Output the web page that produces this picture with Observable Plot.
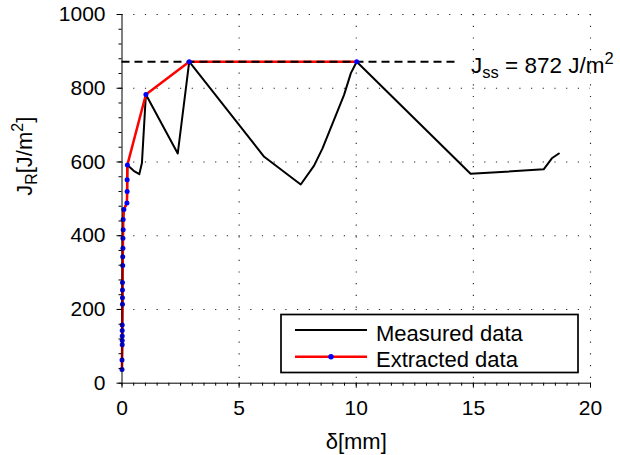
<!DOCTYPE html>
<html>
<head>
<meta charset="utf-8">
<script src="https://cdn.jsdelivr.net/npm/d3@7"></script>
<script src="https://cdn.jsdelivr.net/npm/@observablehq/plot@0.6"></script>
<style>
  html, body { margin: 0; padding: 0; background: #fff; }
  #wrap { position: relative; width: 620px; height: 455px; font-family: "Liberation Sans", Arial, Helvetica, sans-serif; }
  #legend { position: absolute; left: 0; top: 0; pointer-events: none; }
</style>
</head>
<body>
<div id="wrap"></div>
<script>
// ---- data ----
const measuredX = [0.0, 0.01, 0.02, 0.03, 0.04, 0.05, 0.08, 0.21, 0.22, 0.23, 0.50, 0.74, 0.85, 1.02, 2.38, 2.87, 6.07, 7.63, 8.20, 8.56, 9.05, 9.48, 9.77, 10.02, 14.88, 18.00, 18.35, 18.65];
const measuredJ = [37, 104, 214, 319, 416, 444, 471, 489, 520, 592, 576, 567, 597, 783, 623, 872, 614, 539, 590, 637, 714, 782, 841, 872, 568, 580, 610, 623];

const extractedX = [0.0, 0.0, 0.01, 0.01, 0.01, 0.01, 0.01, 0.02, 0.02, 0.02, 0.02, 0.03, 0.03, 0.04, 0.04, 0.05, 0.05, 0.08, 0.21, 0.22, 0.22, 0.23, 1.02, 2.87, 10.02];
const extractedJ = [37, 63, 104, 116, 128, 143, 158, 214, 232, 253, 273, 319, 343, 366, 393, 416, 444, 471, 489, 520, 552, 592, 783, 872, 872];

const jss = 872;
const jssLineEnd = 14.4;
const jssLabelX = 14.9;

const xTicks = [0, 5, 10, 15, 20];
const yTicks = [0, 200, 400, 600, 800, 1000];
const xGrid = [5, 10, 15, 20];
const yGrid = [200, 400, 600, 800, 1000];
const xMinor = d3.range(0, 20.001, 0.5);
const yMinor = d3.range(0, 1000.001, 40);

const legendLabels = ["Measured data", "Extracted data"];

const measured = measuredX.map((x, i) => ({x, y: measuredJ[i]}));
const extracted = extractedX.map((x, i) => ({x, y: extractedJ[i]}));

const FONT = '"Liberation Sans", Arial, Helvetica, sans-serif';
const gridStyle = {stroke: "#222", strokeOpacity: 1, strokeWidth: 1.1, strokeDasharray: "1.2,10.5"};

const chart = Plot.plot({
  width: 620,
  height: 455,
  marginLeft: 121.5,
  marginRight: 30,
  marginTop: 14,
  marginBottom: 72.3,
  style: {fontFamily: FONT, background: "#fff", color: "#000"},
  x: {domain: [0, 20], axis: null},
  y: {domain: [0, 1000], axis: null},
  marks: [
    Plot.gridX(xGrid, gridStyle),
    Plot.gridY(yGrid, gridStyle),
    Plot.line(measured, {x: "x", y: "y", stroke: "black", strokeWidth: 2}),
    Plot.line(extracted, {x: "x", y: "y", stroke: "red", strokeWidth: 2.5}),
    Plot.ruleY([jss], {x1: 0, x2: jssLineEnd, stroke: "black", strokeWidth: 2, strokeDasharray: "8,5"}),
    Plot.dot(extracted, {x: "x", y: "y", fill: "blue", r: 2.5}),
    Plot.axisX({ticks: xMinor, tickSize: 3, text: null, label: null, stroke: "black"}),
    Plot.axisY({ticks: yMinor, tickSize: 3, text: null, label: null, stroke: "black"}),
    Plot.axisX({ticks: xTicks, tickSize: 5, tickPadding: 11.5, fontSize: 21, label: null, tickFormat: d => String(d), stroke: "black"}),
    Plot.axisY({ticks: yTicks, tickSize: 5, tickPadding: 11.5, fontSize: 21, label: null, tickFormat: d => String(d), stroke: "black"}),
    Plot.ruleX([0], {stroke: "black", strokeWidth: 1}),
    Plot.ruleY([0], {stroke: "black", strokeWidth: 1}),
    Plot.text(["δ[mm]"], {frameAnchor: "bottom", lineAnchor: "middle", dy: 58.3, fontSize: 22, fill: "black"}),
    Plot.text(["JR[J/m2]"], {frameAnchor: "left", lineAnchor: "middle", rotate: -90, dx: -97.5, dy: -3, fontSize: 22, fill: "black"}),
    Plot.text([{x: jssLabelX, y: jss}], {x: "x", y: "y", text: () => "Jss = 872 J/m2", textAnchor: "start", lineAnchor: "middle", dy: 4, fontSize: 22.5, fill: "black"})
  ]
});

document.getElementById("wrap").appendChild(chart);

function richText(content, parts) {
  const sel = d3.select(chart).selectAll("text").filter(function () { return this.textContent === content; });
  sel.each(function () {
    const s = d3.select(this);
    s.text(null);
    parts.forEach(p => {
      const t = s.append("tspan").text(p.t);
      if (p.size) t.attr("font-size", p.size);
      if (p.dy) t.attr("dy", p.dy);
    });
  });
}
richText("JR[J/m2]", [
  {t: "J"}, {t: "R", size: 16, dy: 5}, {t: "[J/m", dy: -5}, {t: "2", size: 16, dy: -9}, {t: "]", dy: 9}
]);
richText("Jss = 872 J/m2", [
  {t: "J"}, {t: "ss", size: 16.5, dy: 5}, {t: " = 872 J/m", dy: -5}, {t: "2", size: 16.5, dy: -9}
]);

// ---- legend (inside the axes, lower right) ----
const lg = d3.select("#wrap").append("svg")
  .attr("id", "legend").attr("width", 620).attr("height", 455)
  .style("font-family", FONT);
lg.append("rect").attr("x", 281).attr("y", 314.5).attr("width", 297).attr("height", 58)
  .attr("fill", "white").attr("stroke", "black").attr("stroke-width", 1.7);
lg.append("line").attr("x1", 295).attr("x2", 367).attr("y1", 330).attr("y2", 330)
  .attr("stroke", "black").attr("stroke-width", 2.2);
lg.append("line").attr("x1", 295).attr("x2", 367).attr("y1", 356.7).attr("y2", 356.7)
  .attr("stroke", "red").attr("stroke-width", 2.5);
lg.append("circle").attr("cx", 331).attr("cy", 356.7).attr("r", 2.7).attr("fill", "blue");
legendLabels.forEach((s, i) => {
  lg.append("text").attr("x", 376).attr("y", 340.7 + i * 26).attr("font-size", 22)
    .attr("fill", "black").text(s);
});
</script>
</body>
</html>
